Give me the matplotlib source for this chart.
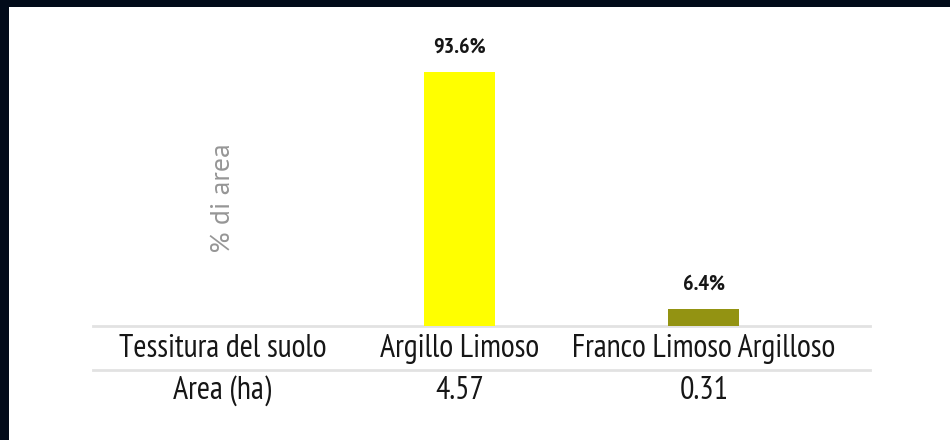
import matplotlib
matplotlib.use("Agg")
import matplotlib.pyplot as plt
from matplotlib.patches import Rectangle

categorie = ["Argillo Limoso", "Franco Limoso Argilloso"]
percentuali = [93.6, 6.4]
aree = ["4.57", "0.31"]
colori = ["#ffff00", "#939312"]
etichetta_riga1 = "Tessitura del suolo"
etichetta_riga2 = "Area (ha)"

narrow = ["PT Sans Narrow", "DejaVu Sans"]
testo = "#161616"

fig = plt.figure(figsize=(9.5, 4.4), dpi=100, facecolor="#020b1a")
# white panel inside the dark frame
fig.patches.append(Rectangle((9 / 950, 0), 1, 1 - 7 / 440, transform=fig.transFigure,
                             facecolor="white", edgecolor="none", zorder=-10))

ax = fig.add_axes([93 / 950, 20 / 440, 777 / 950, 400 / 440])
ax.set_facecolor("none")
ax.set_xlim(-0.5, 2.68)
ax.set_ylim(-34.6, 112.7)
ax.axis("off")

x = [1, 2]
ax.bar(x, percentuali, width=0.29, color=colori, zorder=2)
for xi, p in zip(x, percentuali):
    ax.annotate(f"{p}%", (xi, p), xytext=(0, 11), textcoords="offset points",
                ha="center", va="bottom", fontsize=16, fontweight="bold",
                family=narrow, color=testo)

# table lines
ax.plot([-0.5, 2.68], [0, 0], color="#e2e2e2", lw=2, zorder=1, clip_on=False)
ax.plot([-0.5, 2.68], [-16.2, -16.2], color="#e2e2e2", lw=2, zorder=1, clip_on=False)

# table rows
ax.text(0.03, -8.5, etichetta_riga1, ha="center", va="center", fontsize=23, family=narrow, color=testo)
ax.text(0.03, -23.8, etichetta_riga2, ha="center", va="center", fontsize=23, family=narrow, color=testo)
for xi, c, a in zip(x, categorie, aree):
    ax.text(xi, -8.5, c, ha="center", va="center", fontsize=23, family=narrow, color=testo)
    ax.text(xi, -23.8, a, ha="center", va="center", fontsize=23, family=narrow, color=testo)

# y label
ax.text(0.03, 47, "% di area", rotation=90, ha="center", va="center", fontsize=20,
        family=["PT Sans", "DejaVu Sans"], color="#969696")

fig.savefig("out.png", dpi=100, facecolor=fig.get_facecolor())
